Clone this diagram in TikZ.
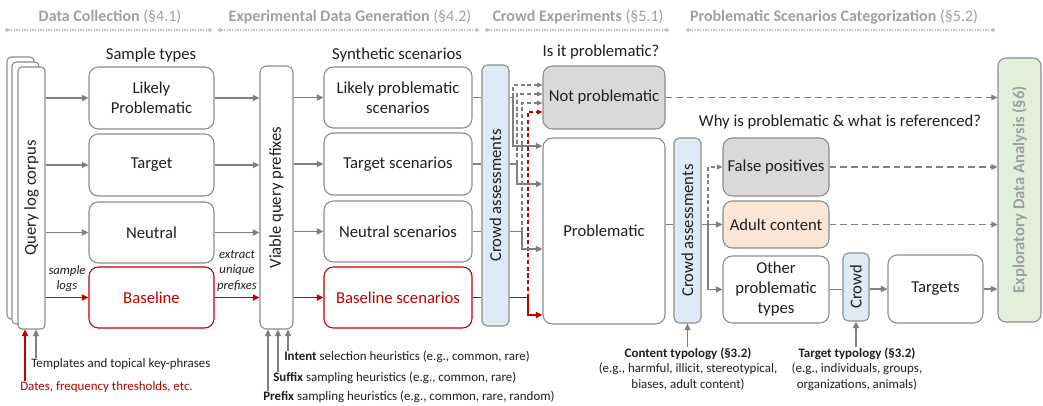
\documentclass[tikz,border=0pt]{standalone}
\usepackage{fontspec}
\setmainfont{Carlito}
\usetikzlibrary{arrows.meta,fit}
\definecolor{lg}{HTML}{7F7F7F}
\definecolor{bd}{HTML}{8C8C8C}
\definecolor{rd}{HTML}{C00000}
\definecolor{hd}{HTML}{A0A0A0}
\definecolor{hl}{HTML}{BFBFBF}
\definecolor{blu}{HTML}{DEEBF7}
\definecolor{grn}{HTML}{E2F0D9}
\definecolor{gry}{HTML}{D9D9D9}
\definecolor{pch}{HTML}{FBE5D6}
\definecolor{tx}{HTML}{1F1F1F}
\begin{document}
\begin{tikzpicture}[x=0.75pt,y=-0.75pt,
  font=\fontsize{12.5}{15}\selectfont, text=tx,
  box/.style={draw=bd, line width=0.8pt, rounded corners=7pt, inner sep=0pt, fill=white},
  bar/.style={draw=bd, line width=0.8pt, rounded corners=4pt, inner sep=0pt, fill=white},
  intxt/.style={align=center, inner sep=0pt},
  gl/.style={draw=lg, line width=1.1pt},
  ar/.style={gl, -{Triangle[length=5pt,width=4.5pt]}},
  rl/.style={draw=rd, line width=1.4pt},
  rar/.style={rl, -{Triangle[length=5pt,width=4.5pt]}},
  dar/.style={draw=lg, line width=0.8pt, dash pattern=on 3pt off 2pt, -{Triangle[length=4pt,width=3.5pt]}},
  rdar/.style={draw=rd, line width=0.8pt, dash pattern=on 3pt off 2pt, -{Triangle[length=4pt,width=3.5pt]}},
  tdar/.style={draw=lg, line width=1.4pt, dash pattern=on 5pt off 3pt, -{Triangle[length=4.5pt,width=4pt]}},
  hdr/.style={text=hd, font=\fontsize{12}{13}\selectfont},
  hline/.style={draw=hl, line width=0.8pt, dash pattern=on 0.8pt off 1.2pt, {Circle[length=3pt]}-{Circle[length=3pt]}},
  note/.style={font=\fontsize{9.5}{11.3}\selectfont\itshape, align=center, inner sep=0pt},
  ann/.style={font=\fontsize{9.7}{11.7}\selectfont, inner sep=0pt},
  lbl/.style={inner sep=0pt}
]
\useasboundingbox (0,0) rectangle (1043,406);
\fill[white] (0,0) rectangle (1043,406);

% headers
\node[hdr] (h1) at (110,17) {\textbf{Data Collection} (§4.1)};
\node[hdr] (h2) at (350,17) {\textbf{Experimental Data Generation} (§4.2)};
\node[hdr] (h3) at (578,17) {\textbf{Crowd Experiments} (§5.1)};
\node[hdr] (h4) at (834,17) {\textbf{Problematic Scenarios Categorization} (§5.2)};
\draw[hline] (5,30) -- (212,30);
\draw[hline] (218,30) -- (479,30);
\draw[hline] (485,30) -- (669,30);
\draw[hline] (686,30) -- (995,30);

% titles
\node[lbl] (t1) at (151,55) {Sample types};
\node[lbl] (t2) at (397,55) {Synthetic scenarios};
\node[lbl] (t3) at (601,52) {Is it problematic?};
\node[lbl] (t4) at (840,122) {Why is problematic \& what is referenced?};

% corpus stack
\node[bar, rounded corners=3pt, fit={(7,57) (34,319)}] (pg3) {};
\node[bar, rounded corners=3pt, fit={(12,62) (39,324)}] (pg2) {};
\node[bar, rounded corners=3pt, fit={(18,67) (45,329)}, label={[rotate=90]center:Query log corpus}] (corpus) {};

% sample types
\node[box, fit={(89,67) (214,129)}, label={[intxt]center:Likely\\Problematic}] (lp) {};
\node[box, fit={(89,134) (214,196)}, label={[intxt]center:Target}] (tg1) {};
\node[box, fit={(89,202) (214,263)}, label={[intxt]center:Neutral}] (nt) {};
\node[box, draw=rd, fit={(89,267) (214,328)}, label={[intxt, text=rd]center:Baseline}] (bl) {};

% viable prefixes
\node[bar, rounded corners=5pt, fit={(260,66) (293,329)}, label={[rotate=90]center:Viable query prefixes}] (vq) {};

% scenarios
\node[box, fit={(324,67) (472,128)}, label={[intxt]center:Likely problematic\\scenarios}] (lps) {};
\node[box, fit={(324,133) (472,195)}, label={[intxt]center:Target scenarios}] (tgs) {};
\node[box, fit={(324,201) (472,262)}, label={[intxt]center:Neutral scenarios}] (nts) {};
\node[box, draw=rd, fit={(324,267) (472,328)}, label={[intxt, text=rd]center:Baseline scenarios}] (bls) {};

% crowd 1
\node[bar, fill=blu, fit={(482,65) (509,326)}, label={[rotate=90]center:Crowd assessments}] (ca1) {};

% outcomes
\node[box, fill=gry, fit={(543,66) (665,129)}, label={[intxt]center:Not problematic}] (np) {};
\node[box, fit={(543,138) (665,324)}, label={[intxt]center:Problematic}] (prob) {};

% crowd 2
\node[bar, fill=blu, fit={(674,138) (701,323)}, label={[rotate=90]center:Crowd assessments}] (ca2) {};

% categories
\node[box, fill=gry, fit={(723,138) (829,196)}, label={[intxt]center:False positives}] (fp) {};
\node[box, fill=pch, fit={(723,201) (829,248)}, label={[intxt]center:Adult content}] (ac) {};
\node[box, fit={(723,256) (829,323)}, label={[intxt]center:Other\\problematic\\types}] (ot) {};
\node[bar, fill=blu, fit={(843,253) (869,321)}, label={[rotate=90]center:Crowd}] (cr) {};
\node[box, fit={(888,255) (983,323)}, label={[intxt]center:Targets}] (tg) {};

% EDA
\node[bar, fill=grn, rounded corners=6pt, fit={(998,58) (1041,322)}, label={[rotate=90, text=hd, font=\fontsize{12.5}{14}\selectfont\bfseries]center:Exploratory Data Analysis (§6)}] (eda) {};

% corpus -> samples
\draw[ar] (corpus.east |- lp.west) -- (lp.west);
\draw[ar] (corpus.east |- tg1.west) -- (tg1.west);
\draw[ar] (corpus.east |- nt.west) -- (nt.west);
\draw[rar] (corpus.east |- bl.west) -- (bl.west);
\node[note] (sl) at (67,279) {sample\\logs};

% samples -> viable
\draw[ar] (lp.east) -- (vq.west |- lp.east);
\draw[ar] (tg1.east) -- (vq.west |- tg1.east);
\draw[ar] (nt.east) -- (vq.west |- nt.east);
\draw[rar] (bl.east) -- (vq.west |- bl.east);
\node[note] (eu) at (237,271) {extract\\unique\\prefixes};

% viable -> scenarios
\draw[ar] (vq.east |- lps.west) -- (lps.west);
\draw[ar] (vq.east |- tgs.west) -- (tgs.west);
\draw[ar] (vq.east |- nts.west) -- (nts.west);
\draw[rar] (vq.east |- bls.west) -- (bls.west);

% scenarios -> crowd 1
\draw[gl] (lps.east) -- (ca1.west |- lps.east);
\draw[gl] (tgs.east) -- (ca1.west |- tgs.east);
\draw[gl] (nts.east) -- (ca1.west |- nts.east);
\draw[rl] (bls.east) -- (ca1.west |- bls.east);

% routing points
\coordinate (a1) at (513,0);
\coordinate (a2) at (517,0);
\coordinate (a3) at (522,0);
\coordinate (a4) at (528,0);
\coordinate (n1) at (np.west |- 0,85);
\coordinate (n2) at (np.west |- 0,94);
\coordinate (n3) at (np.west |- 0,103);
\coordinate (n4) at (np.west |- 0,112);
\coordinate (p1) at (prob.west |- 0,146);
\coordinate (p2) at (prob.west |- 0,184);
\coordinate (p3) at (prob.west |- 0,249);
\coordinate (p4) at (prob.west |- 0,315);

% crowd 1 -> outcomes
\draw[dar] (a1 |- lps.east) -- (a1 |- n1) -- (n1);
\draw[dar] (a2 |- tgs.east) -- (a2 |- n2) -- (n2);
\draw[dar] (a3 |- nts.east) -- (a3 |- n3) -- (n3);
\draw[rdar] (a4 |- bls.east) -- (a4 |- n4) -- (n4);
\draw[ar] (ca1.east |- lps.east) -- (a1 |- lps.east) -- (a1 |- p1) -- (p1);
\draw[ar] (ca1.east |- tgs.east) -- (a2 |- tgs.east) -- (a2 |- p2) -- (p2);
\draw[ar] (ca1.east |- nts.east) -- (a3 |- nts.east) -- (a3 |- p3) -- (p3);
\draw[rar] (ca1.east |- bls.east) -- (a4 |- bls.east) -- (a4 |- p4) -- (p4);

% not problematic -> EDA
\draw[tdar] (np.east) -- (eda.west |- np.east);

% problematic -> crowd 2 -> categories
\coordinate (jj) at (708,0);
\draw[gl] (prob.east |- ac.west) -- (ca2.west |- ac.west);
\draw[ar] (ca2.east |- ac.west) -- (ac.west);
\draw[ar] (jj |- ac.west) -- (jj |- ot.west) -- (ot.west);
\draw[dar] (jj |- ac.west) -- (jj |- fp.west) -- (fp.west);

% categories -> EDA
\draw[tdar] (fp.east) -- (eda.west |- fp.east);
\draw[tdar] (ac.east) -- (eda.west |- ac.east);
\draw[gl] (ot.east) -- (cr.west |- ot.east);
\draw[ar] (cr.east |- tg.west) -- (tg.west);
\draw[ar] (tg.east) -- (eda.west |- tg.east);

% bottom annotations
\node[ann, anchor=west] (tmpl) at (31,364) {Templates and topical key-phrases};
\node[ann, anchor=west, text=rd] (dates) at (20,387) {Dates, frequency thresholds, etc.};
\draw[ar] (tmpl.north -| 36,0) -- (corpus.south -| 36,0);
\draw[rar] (dates.north -| 25,0) -- (corpus.south -| 25,0);

\node[ann, anchor=west] (intent) at (284,357) {\textbf{Intent} selection heuristics (e.g., common, rare)};
\node[ann, anchor=west] (suffix) at (273,378) {\textbf{Suffix} sampling heuristics (e.g., common, rare)};
\node[ann, anchor=west] (prefix) at (263,397) {\textbf{Prefix} sampling heuristics (e.g., common, rare, random)};
\draw[ar] (intent.north -| 288,0) -- (vq.south -| 288,0);
\draw[ar] (suffix.north -| 278,0) -- (vq.south -| 278,0);
\draw[ar] (prefix.north -| 268,0) -- (vq.south -| 268,0);

\node[ann, align=center] (ct) at (688,369) {\textbf{Content typology (§3.2)}\\(e.g., harmful, illicit,\ stereotypical,\\biases, adult content)};
\node[ann, align=center] (tt) at (857,369) {\textbf{Target typology (§3.2)}\\(e.g., individuals, groups,\\organizations, animals)};
\draw[ar] (ct.north -| ca2.south) -- (ca2.south);
\draw[ar] (tt.north -| cr.south) -- (cr.south);
\end{tikzpicture}
\end{document}
